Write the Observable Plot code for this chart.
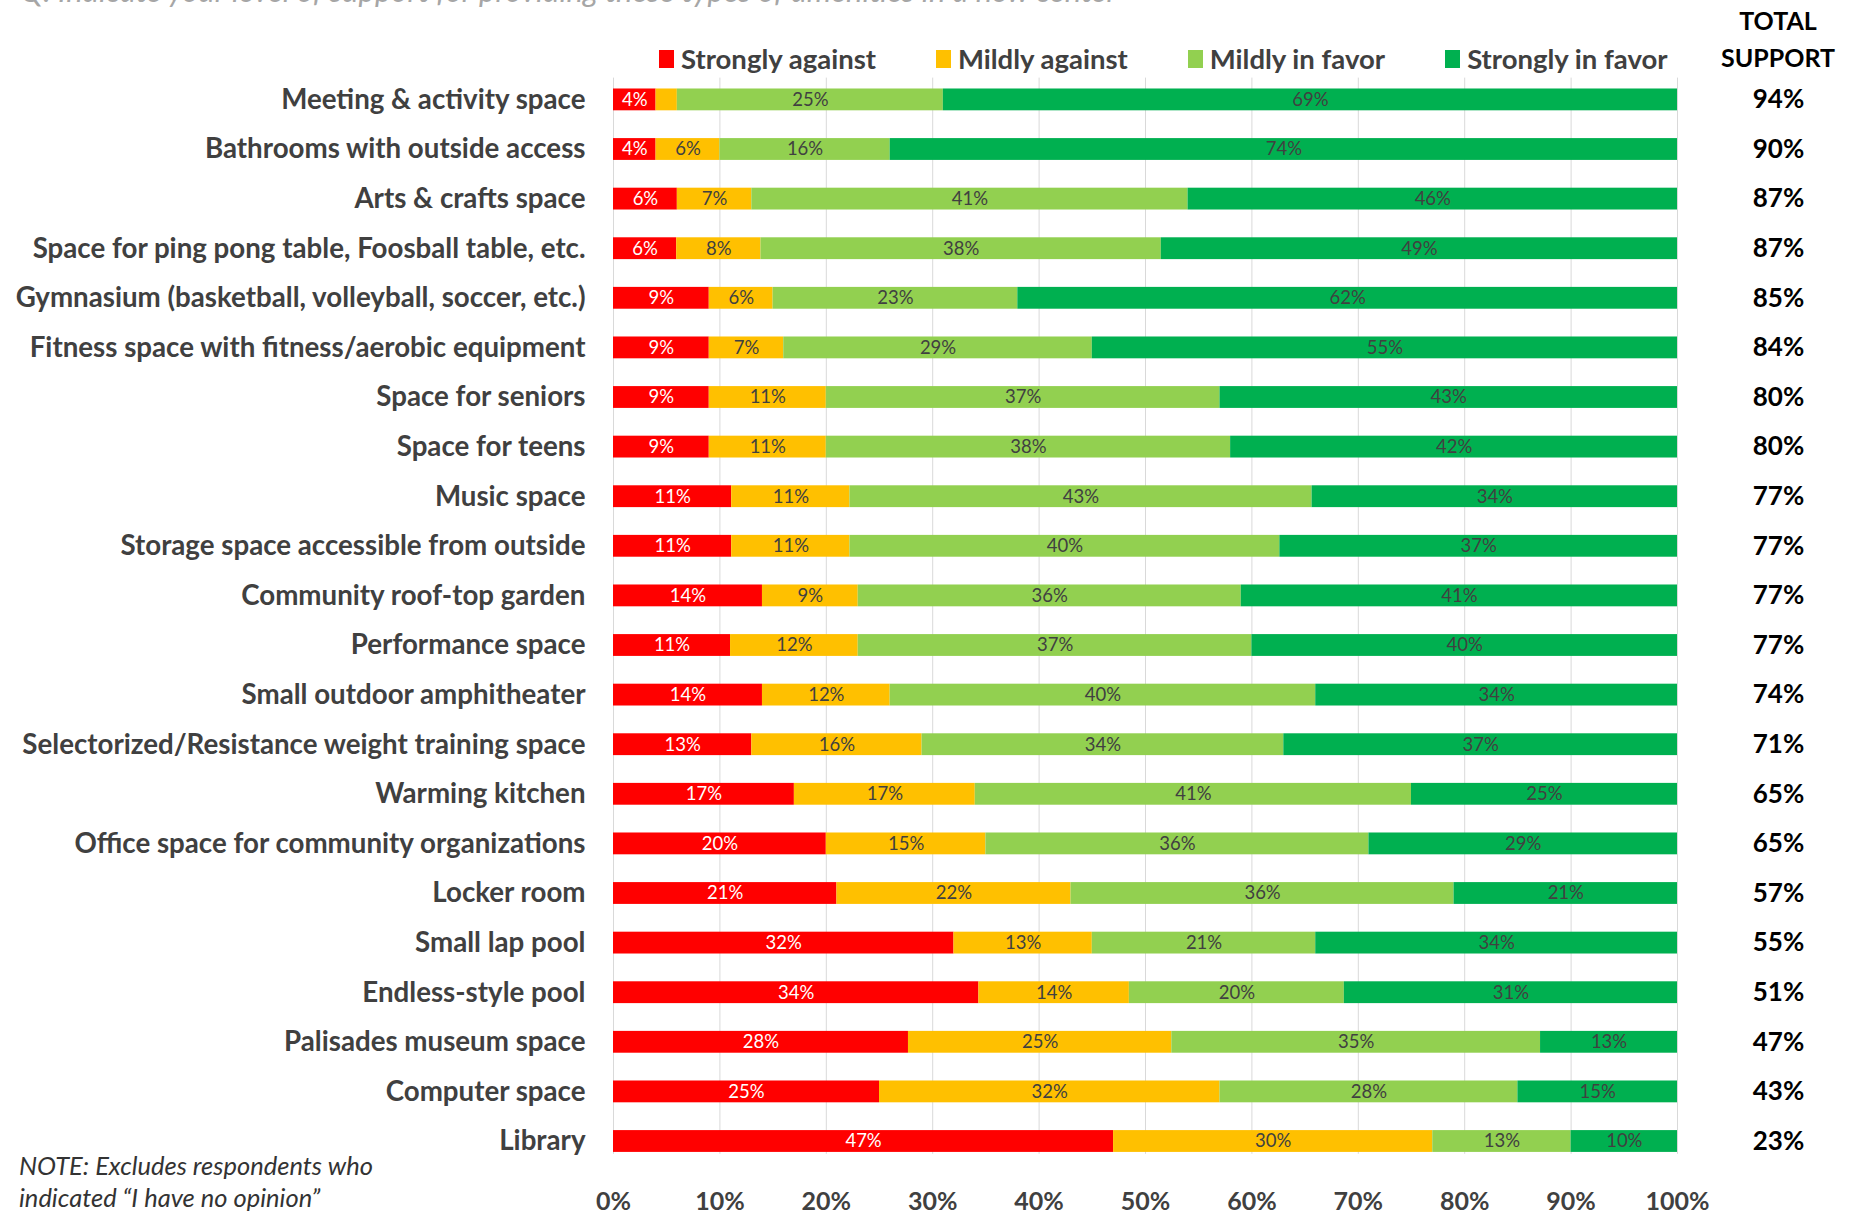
<!DOCTYPE html>
<html>
<head>
<meta charset="utf-8">
<script src="https://cdn.jsdelivr.net/npm/d3@7"></script>
<script src="https://cdn.jsdelivr.net/npm/@observablehq/plot@0.6"></script>
<style>
html, body { margin: 0; padding: 0; background: #fff; }
#wrap { position: relative; width: 1856px; height: 1217px; overflow: hidden; font-family: Lato, "Open Sans", sans-serif; }
#chart { position: absolute; left: 0; top: 0; }
#title { position: absolute; left: 20px; top: -25px; font-style: italic; font-size: 31px; line-height: 31px; color: #a6a6a6; white-space: nowrap; }
#legend { position: absolute; left: 659px; top: 43px; display: flex; align-items: center; }
.item { display: flex; align-items: center; margin-right: 60px; font-weight: bold; font-size: 27.5px; line-height: 32px; color: #404040; white-space: nowrap; }
.sw { width: 15px; height: 18px; margin-right: 7px; }
#total { position: absolute; left: 1718px; width: 120px; top: 2px; text-align: center; font-weight: bold; font-size: 25px; line-height: 37px; color: #000; }
#note { position: absolute; left: 19px; top: 1149px; font-style: italic; font-size: 25.5px; line-height: 32px; color: #333; white-space: nowrap; }
</style>
</head>
<body>
<div id="wrap">
  <div id="chart"></div>
  <div id="title"></div>
  <div id="legend"></div>
  <div id="total"></div>
  <div id="note"></div>
</div>
<script>
const titleText = "Q: Indicate your level of support for providing these types of amenities in a new center";
const noteLines = ["NOTE: Excludes respondents who", "indicated \u201cI have no opinion\u201d"];
const totalHeader = ["TOTAL", "SUPPORT"];

const items = [
  "Meeting & activity space",
  "Bathrooms with outside access",
  "Arts & crafts space",
  "Space for ping pong table, Foosball table, etc.",
  "Gymnasium (basketball, volleyball, soccer, etc.)",
  "Fitness space with fitness/aerobic equipment",
  "Space for seniors",
  "Space for teens",
  "Music space",
  "Storage space accessible from outside",
  "Community roof-top garden",
  "Performance space",
  "Small outdoor amphitheater",
  "Selectorized/Resistance weight training space",
  "Warming kitchen",
  "Office space for community organizations",
  "Locker room",
  "Small lap pool",
  "Endless-style pool",
  "Palisades museum space",
  "Computer space",
  "Library"
];

const categories = ["Strongly against", "Mildly against", "Mildly in favor", "Strongly in favor"];
const colors = ["#FF0000", "#FFC000", "#92D050", "#00B050"];

const stronglyAgainst = [4, 4, 6, 6, 9, 9, 9, 9, 11, 11, 14, 11, 14, 13, 17, 20, 21, 32, 34, 28, 25, 47];
const mildlyAgainst   = [2, 6, 7, 8, 6, 7, 11, 11, 11, 11, 9, 12, 12, 16, 17, 15, 22, 13, 14, 25, 32, 30];
const mildlyInFavor   = [25, 16, 41, 38, 23, 29, 37, 38, 43, 40, 36, 37, 40, 34, 41, 36, 36, 21, 20, 35, 28, 13];
const stronglyInFavor = [69, 74, 46, 49, 62, 55, 43, 42, 34, 37, 41, 40, 34, 37, 25, 29, 21, 34, 31, 13, 15, 10];
const totalSupport    = [94, 90, 87, 87, 85, 84, 80, 80, 77, 77, 77, 77, 74, 71, 65, 65, 57, 55, 51, 47, 43, 23];

const xTicks = [0, 0.1, 0.2, 0.3, 0.4, 0.5, 0.6, 0.7, 0.8, 0.9, 1];

const series = [stronglyAgainst, mildlyAgainst, mildlyInFavor, stronglyInFavor];
const rows = [];
items.forEach((item, i) => {
  series.forEach((s, j) => rows.push({item, cat: categories[j], value: s[i]}));
});
const totals = items.map((item, i) => ({item, total: totalSupport[i]}));

const pct = d3.format(".0%");

const plot = Plot.plot({
  width: 1856,
  height: 1217,
  marginLeft: 613,
  marginRight: 179,
  marginTop: 74.6,
  marginBottom: 51.2,
  style: {fontFamily: "Lato, 'Open Sans', sans-serif", color: "#404040", background: "transparent", overflow: "visible"},
  x: {domain: [0, 1], ticks: xTicks, tickFormat: pct, label: null},
  y: {domain: items, paddingInner: 0.56, paddingOuter: 0.28, round: false, label: null},
  color: {domain: categories, range: colors},
  marks: [
    Plot.ruleX(xTicks, {stroke: "#d9d9d9", strokeWidth: 1, insetTop: 3, insetBottom: 12}),
    Plot.barX(rows, Plot.stackX({x: "value", y: "item", fill: "cat", offset: "normalize"})),
    Plot.text(rows, Plot.stackX({
      x: "value", y: "item", z: "cat", offset: "normalize",
      text: d => (d.cat === categories[0] && d.value >= 3) ? d.value + "%" : "",
      fill: "white", fontSize: 18.5
    })),
    Plot.text(rows, Plot.stackX({
      x: "value", y: "item", z: "cat", offset: "normalize",
      text: d => (d.cat !== categories[0] && d.value >= 3) ? d.value + "%" : "",
      fill: "#404040", fontSize: 18.5
    })),
    Plot.axisX({ticks: xTicks, tickFormat: pct, tickSize: 0, tickPadding: 26, fontSize: 25, fontWeight: "bold", label: null}),
    Plot.axisY({tickSize: 0, tickPadding: 28, fontSize: 27.7, fontWeight: "bold", label: null}),
    Plot.text(totals, {y: "item", text: d => d.total + "%", frameAnchor: "right", textAnchor: "middle", dx: 101, fontSize: 26, fontWeight: "bold", fill: "#000"})
  ]
});
document.getElementById("chart").appendChild(plot);

document.getElementById("title").textContent = titleText;

const legend = document.getElementById("legend");
categories.forEach((c, i) => {
  const it = document.createElement("div");
  it.className = "item";
  const sw = document.createElement("span");
  sw.className = "sw";
  sw.style.background = colors[i];
  const tx = document.createElement("span");
  tx.textContent = c;
  it.appendChild(sw);
  it.appendChild(tx);
  legend.appendChild(it);
});

document.getElementById("total").innerHTML = totalHeader.join("<br>");
document.getElementById("note").innerHTML = noteLines.join("<br>");
</script>
</body>
</html>
